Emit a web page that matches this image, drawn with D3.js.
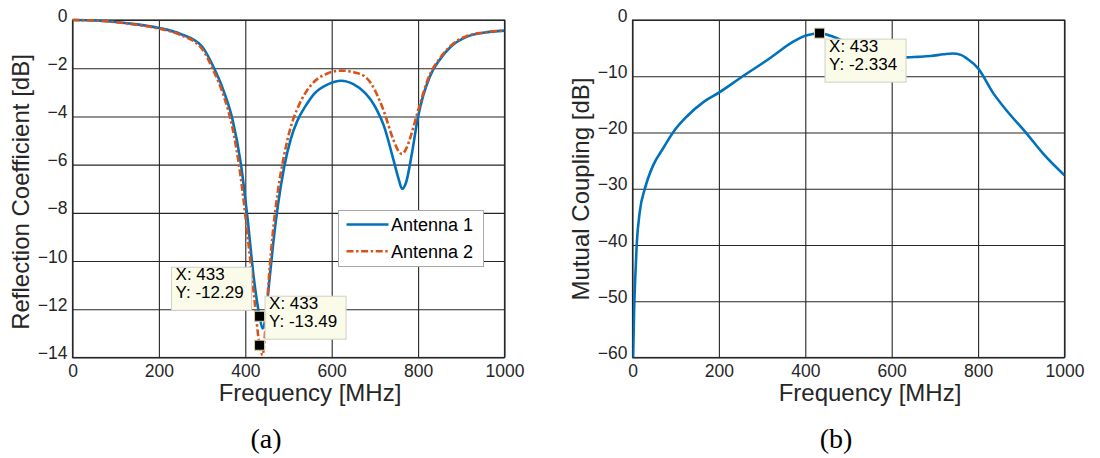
<!DOCTYPE html>
<html>
<head>
<meta charset="utf-8">
<script src="https://cdn.jsdelivr.net/npm/d3@7"></script>
<style>
  html, body { margin: 0; padding: 0; background: #fff; }
  svg { display: block; }
  text { font-family: "Liberation Sans", Arial, Helvetica, sans-serif; }
</style>
</head>
<body>
<svg id="fig" width="1100" height="458"></svg>
<script>
// Frequency sweep (MHz) for the reflection coefficients
const freqA = [0, 50, 100, 150, 200, 250, 300, 325, 350, 370, 390, 405, 420,
  433, 440, 447, 455, 465, 475, 490, 505, 520, 540, 560, 590, 622, 650, 677,
  690, 705, 720, 743, 755, 763, 772, 785, 800, 827, 850, 875, 912, 951, 1000];
// Antenna 1 reflection coefficient (dB)
const antenna1 = [0, -0.02, -0.08, -0.18, -0.33, -0.58, -1.1, -1.9, -2.95, -4.1,
  -6.0, -8.2, -10.75, -12.29, -12.8, -12.3, -10.95, -9.2, -7.75, -6.1, -4.95,
  -4.2, -3.55, -3.05, -2.68, -2.52, -2.66, -3.02, -3.3, -3.75, -4.35, -5.8,
  -6.6, -7.0, -6.75, -5.6, -4.0, -2.35, -1.65, -1.12, -0.7, -0.53, -0.44];
// Antenna 2 reflection coefficient (dB)
const antenna2 = [0, -0.02, -0.09, -0.2, -0.36, -0.62, -1.2, -2.05, -3.15, -4.45,
  -6.6, -8.9, -11.4, -13.49, -13.9, -12.7, -10.6, -8.6, -7.15, -5.6, -4.45,
  -3.7, -3.0, -2.55, -2.22, -2.1, -2.16, -2.35, -2.6, -3.1, -3.75, -4.98,
  -5.45, -5.56, -5.35, -4.7, -3.75, -2.27, -1.6, -1.08, -0.67, -0.52, -0.44];

// Frequency sweep (MHz) and mutual coupling (dB)
const freqB = [1.5, 3.5, 6, 9.7, 17, 29, 48, 71, 95, 125, 164, 201, 256, 318,
  372, 400, 420, 433, 450, 475, 500, 526, 560, 600, 634, 660, 690, 720, 740,
  760, 775, 800, 835, 865, 912, 950, 1000];
const coupling = [-60, -52.4, -46.5, -40, -34, -29.9, -25.8, -22.8, -19.85,
  -17.2, -14.6, -12.86, -9.96, -6.8, -3.85, -2.8, -2.45, -2.334, -2.6, -3.3,
  -4.3, -5.3, -6.15, -6.65, -6.65, -6.55, -6.4, -6.1, -5.95, -6.2, -6.9, -8.6,
  -13.0, -16.0, -20.15, -23.7, -27.6];

// Axis ticks
const xTicks = [0, 200, 400, 600, 800, 1000];
const yTicksA = [0, -2, -4, -6, -8, -10, -12, -14];
const yTicksB = [0, -10, -20, -30, -40, -50, -60];

// Legend entries and data cursors
const seriesNames = ["Antenna 1", "Antenna 2"];
const cursorFreq = 433;
const cursorA = [-12.29, -13.49];
const cursorB = [-2.334];

const BLUE = "#0072BD", ORANGE = "#D95319", INK = "#262626";

const svg = d3.select("#fig");

function panel(opts) {
  const { left, right, top, bottom, yDomain, yTicks, id } = opts;
  const x = d3.scaleLinear().domain([0, 1000]).range([left, right]);
  const y = d3.scaleLinear().domain(yDomain).range([bottom, top]);
  const g = svg.append("g");

  g.append("defs").append("clipPath").attr("id", id)
    .append("rect").attr("x", left).attr("y", top - 2)
    .attr("width", right - left).attr("height", bottom - top + 4);

  // grid + tick labels
  const gx = g.append("g").attr("transform", `translate(0,${bottom})`)
    .call(d3.axisBottom(x).tickValues(xTicks).tickSize(-(bottom - top))
      .tickPadding(7).tickFormat(d3.format("d")));
  const gy = g.append("g").attr("transform", `translate(${left},0)`)
    .call(d3.axisLeft(y).tickValues(yTicks).tickSize(-(right - left))
      .tickPadding(5).tickFormat(d3.format("d")));
  [gx, gy].forEach(a => {
    a.select(".domain").remove();
    a.selectAll(".tick line").attr("stroke", INK).attr("stroke-width", 1.1);
    a.selectAll(".tick text").attr("fill", INK)
      .style("font-size", "17.5px");
  });
  gy.selectAll(".tick text").attr("dy", "0.06em");

  // plot box
  g.append("rect").attr("x", left).attr("y", top)
    .attr("width", right - left).attr("height", bottom - top)
    .attr("fill", "none").attr("stroke", INK).attr("stroke-width", 1.2);

  return { x, y, g, clip: `url(#${id})` };
}

function lineOf(p, xs, ys) {
  return d3.line().curve(d3.curveMonotoneX)
    .x((d, i) => p.x(xs[i])).y(d => p.y(d))(ys);
}

function cursor(p, fx, fy, dx, dy, w) {
  const mx = p.x(fx), my = p.y(fy);
  const bx = mx + dx, by = my + dy;
  const tip = svg.append("g");
  tip.append("rect").attr("x", bx).attr("y", by).attr("width", w).attr("height", 43)
    .attr("fill", "#fbfbea").attr("stroke", "#cfcfc4").attr("stroke-width", 1);
  tip.append("text").attr("x", bx + 4).attr("y", by + 13)
    .style("font-size", "17px").attr("fill", "#000").text(`X: ${fx}`);
  tip.append("text").attr("x", bx + 4).attr("y", by + 30.8)
    .style("font-size", "17px").attr("fill", "#000").text(`Y: ${fy}`);
  svg.append("rect").attr("x", mx - 5).attr("y", my - 5)
    .attr("width", 10).attr("height", 10)
    .attr("fill", "#000").attr("stroke", "#d9d0a8").attr("stroke-width", 1);
}

// ---------- (a) reflection coefficients ----------
const pa = panel({ left: 72.5, right: 504.5, top: 20, bottom: 357.5,
  yDomain: [-14, 0], yTicks: yTicksA, id: "clipA" });

pa.g.append("path").attr("d", lineOf(pa, freqA, antenna1))
  .attr("fill", "none").attr("stroke", BLUE).attr("stroke-width", 2.6)
  .attr("clip-path", pa.clip);
pa.g.append("path").attr("d", lineOf(pa, freqA, antenna2))
  .attr("fill", "none").attr("stroke", ORANGE).attr("stroke-width", 2.6)
  .attr("stroke-dasharray", "7,2.6,2.4,2.6").attr("clip-path", pa.clip);

svg.append("text").attr("transform", "translate(29,192) rotate(-90)")
  .attr("text-anchor", "middle").style("font-size", "24px").attr("fill", INK)
  .text("Reflection Coefficient [dB]");
svg.append("text").attr("x", 310).attr("y", 401).attr("text-anchor", "middle")
  .style("font-size", "24px").attr("fill", INK).text("Frequency [MHz]");

// legend
const lg = svg.append("g");
lg.append("rect").attr("x", 338.5).attr("y", 210.5).attr("width", 145).attr("height", 56)
  .attr("fill", "#fff").attr("stroke", "#a8a8a8").attr("stroke-width", 1);
[BLUE, ORANGE].forEach((c, i) => {
  const yy = 224.5 + i * 26.7;
  lg.append("line").attr("x1", 346.5).attr("x2", 388.5).attr("y1", yy).attr("y2", yy)
    .attr("stroke", c).attr("stroke-width", 2.6)
    .attr("stroke-dasharray", i ? "7,2.6,2.4,2.6" : null);
  lg.append("text").attr("x", 391).attr("y", yy + 1.6 + 5)
    .style("font-size", "18px").attr("fill", "#000").text(seriesNames[i]);
});

cursor(pa, cursorFreq, cursorA[0], -88, -49, 80);
cursor(pa, cursorFreq, cursorA[1], 5.5, -49, 81);

// ---------- (b) mutual coupling ----------
const pb = panel({ left: 632.5, right: 1064.5, top: 20, bottom: 357.5,
  yDomain: [-60, 0], yTicks: yTicksB, id: "clipB" });

pb.g.append("path").attr("d", lineOf(pb, freqB, coupling))
  .attr("fill", "none").attr("stroke", BLUE).attr("stroke-width", 2.6)
  .attr("clip-path", pb.clip);

svg.append("text").attr("transform", "translate(589,189) rotate(-90)")
  .attr("text-anchor", "middle").style("font-size", "24px").attr("fill", INK)
  .text("Mutual Coupling [dB]");
svg.append("text").attr("x", 870).attr("y", 401).attr("text-anchor", "middle")
  .style("font-size", "24px").attr("fill", INK).text("Frequency [MHz]");

cursor(pb, cursorFreq, cursorB[0], 5.5, 6, 81);

// sub-figure captions
svg.append("text").attr("x", 266).attr("y", 448).attr("text-anchor", "middle")
  .style("font-family", "'Liberation Serif', 'DejaVu Serif', serif")
  .style("font-size", "28px").attr("fill", "#000").text("(a)");
svg.append("text").attr("x", 836).attr("y", 448).attr("text-anchor", "middle")
  .style("font-family", "'Liberation Serif', 'DejaVu Serif', serif")
  .style("font-size", "28px").attr("fill", "#000").text("(b)");
</script>
</body>
</html>
